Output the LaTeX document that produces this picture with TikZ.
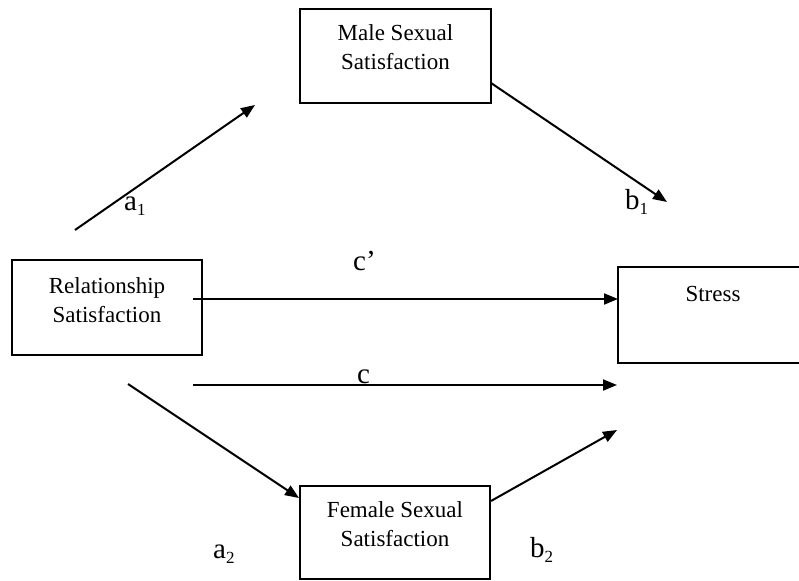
\documentclass[tikz,border=0pt]{standalone}
\usepackage{fontspec}
\setmainfont{Liberation Serif}
\usetikzlibrary{arrows.meta}
\newcommand\lsub[1]{\raisebox{-5pt}{\fontsize{17}{17}\selectfont #1}}
\begin{document}
\begin{tikzpicture}[x=1pt,y=-1pt,
  box/.style={draw, line width=2pt, inner sep=0pt, outer sep=0pt, anchor=north west},
  boxtext/.style={inner sep=0pt, align=center, font=\fontsize{23}{29}\selectfont, anchor=north},
  lab/.style={inner sep=0pt, anchor=base west, font=\fontsize{29}{29}\selectfont},
  conn/.style={line width=2pt, -{Triangle[length=14pt,width=11pt]}}]
\useasboundingbox (0,0) rectangle (799,580);

% boxes
\node[box, minimum width=191pt, minimum height=94pt] (male) at (300,9) {};
\node[box, minimum width=190pt, minimum height=95pt] (rel) at (12,260) {};
\node[box, minimum width=190pt, minimum height=96pt] (stress) at (618,267) {};
\node[box, minimum width=190pt, minimum height=93pt] (female) at (300,486) {};

% box texts
\node[boxtext] (maletext) at (395.5,24.3) {Male Sexual\\Satisfaction};
\node[boxtext] (reltext) at (107,277.5) {Relationship\\Satisfaction};
\node[boxtext] (stresstext) at (713,286.5) {Stress};
\node[boxtext] (femaletext) at (395,501.5) {Female Sexual\\Satisfaction};

% connector end points
\coordinate (a1s) at (75,230);
\coordinate (a1e) at (255,105);
\coordinate (b1s) at (491,83);
\coordinate (b1e) at (667,202);
\coordinate (cps) at (193,299);
\coordinate (cpe) at (618,299);
\coordinate (cs) at (193,385);
\coordinate (ce) at (617,385);
\coordinate (a2s) at (128,384);
\coordinate (a2e) at (299,498);
\coordinate (b2s) at (491,501);
\coordinate (b2e) at (617,430);

\draw[conn] (a1s) -- (a1e);
\draw[conn] (b1s) -- (b1e);
\draw[conn] (cps) -- (cpe);
\draw[conn] (cs) -- (ce);
\draw[conn] (a2s) -- (a2e);
\draw[conn] (b2s) -- (b2e);

% labels
\node[lab] (la1) at (124,210) {a\lsub{1}};
\node[lab] (lb1) at (625,209) {b\lsub{1}};
\node[lab] (lcp) at (353,270) {c’};
\node[lab] (lc) at (357,383) {c};
\node[lab] (la2) at (213,558) {a\lsub{2}};
\node[lab] (lb2) at (530,557) {b\lsub{2}};
\end{tikzpicture}
\end{document}
